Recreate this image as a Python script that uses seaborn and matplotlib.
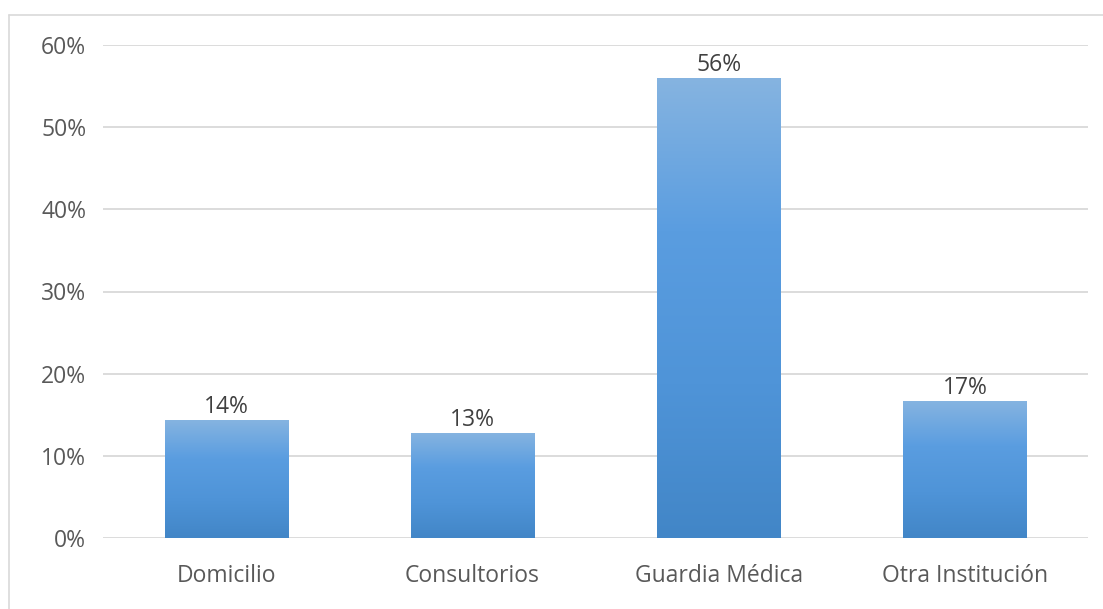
import numpy as np
import pandas as pd
import matplotlib
matplotlib.use("Agg")
import matplotlib.pyplot as plt
from matplotlib.colors import LinearSegmentedColormap
from matplotlib.patches import Rectangle
import seaborn as sns

categories = ["Domicilio", "Consultorios", "Guardia Médica", "Otra Institución"]
shares = [14.4, 12.8, 56.0, 16.7]
yticks = [0, 10, 20, 30, 40, 50, 60]

df = pd.DataFrame({"lugar": categories, "pct": shares})

sns.set_theme(style="white")
plt.rcParams["font.family"] = ["Open Sans", "DejaVu Sans"]

text_color = "#595959"
grid_color = "#d9d9d9"
fs = 16.5

fig = plt.figure(figsize=(11.03, 6.09), dpi=100)
ax = fig.add_axes([103 / 1103, 71 / 609, 985 / 1103, 493 / 609])

sns.barplot(data=df, x="lugar", y="pct", width=0.5, color="#5b9bd5",
            ax=ax, zorder=2)

ax.set_ylim(0, 60)
ax.set_xlim(-0.5, len(categories) - 0.5)
ax.set_yticks(yticks)
ax.set_yticklabels([f"{t}%" for t in yticks])
ax.set_xlabel("")
ax.set_ylabel("")
for s in ax.spines.values():
    s.set_visible(False)
ax.grid(False)
for t in yticks:
    ax.axhline(t, color=grid_color, lw=1.3, zorder=1)

ax.tick_params(axis="both", length=0, colors=text_color, labelsize=fs)
ax.tick_params(axis="y", pad=12)
ax.tick_params(axis="x", pad=19)

# vertical gradient fill for each bar
cmap = LinearSegmentedColormap.from_list(
    "bar_grad", ["#4286c7", "#4f94d8", "#5a9de0", "#86b4e1"])
grad = np.linspace(0, 1, 256).reshape(-1, 1)
for patch, v in zip(ax.patches, shares):
    x0, y0 = patch.get_x(), patch.get_y()
    w, h = patch.get_width(), patch.get_height()
    patch.set_facecolor("none")
    patch.set_edgecolor("none")
    im = ax.imshow(grad, cmap=cmap, origin="lower", aspect="auto",
                   extent=[x0, x0 + w, y0, y0 + h], zorder=3)
    clip = Rectangle((x0, y0), w, h, transform=ax.transData)
    im.set_clip_path(clip)
    ax.text(x0 + w / 2, v + 0.1, f"{v:.0f}%", ha="center", va="bottom",
            color="#404040", fontsize=fs, zorder=4)

ax.set_xlim(-0.5, len(categories) - 0.5)
ax.set_ylim(0, 60)

# chart frame (left and top edges)
fig.add_artist(plt.Line2D([8.5 / 1103, 8.5 / 1103], [0, 1 - 14.5 / 609],
                          transform=fig.transFigure, color=grid_color, lw=1.2))
fig.add_artist(plt.Line2D([8.5 / 1103, 1], [1 - 14.5 / 609, 1 - 14.5 / 609],
                          transform=fig.transFigure, color=grid_color, lw=1.2))

fig.savefig("out.png", dpi=100, facecolor="white")
